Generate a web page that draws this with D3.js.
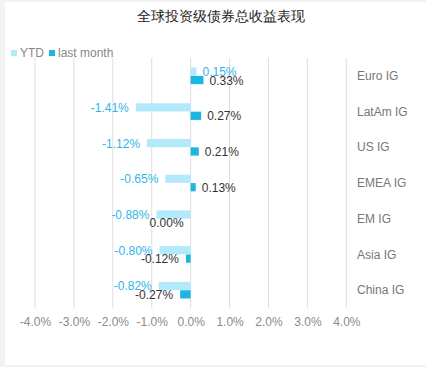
<!DOCTYPE html>
<html><head><meta charset="utf-8">
<script src="https://cdn.jsdelivr.net/npm/d3@7"></script>
<style>body{margin:0;background:#f3f3f3;}svg{display:block;font-family:"Liberation Sans",Arial,sans-serif;}</style>
</head><body>
<svg id="c" width="426" height="367"></svg>
<script>
const categories = ["Euro IG","LatAm IG","US IG","EMEA IG","EM IG","Asia IG","China IG"];
const seriesNames = ["YTD","last month"];
const ytd = [0.15,-1.41,-1.12,-0.65,-0.88,-0.80,-0.82];
const lastMonth = [0.33,0.27,0.21,0.13,0.00,-0.12,-0.27];
const tickValues = [-4,-3,-2,-1,0,1,2,3,4];
const title = "全球投资级债券总收益表现";
const colors = {"YTD":"#b3eafb","last month":"#1cb7e1"};
const labelColors = {"YTD":"#2fb5ea","last month":"#333333"};

const svg = d3.select("#c");
svg.append("rect").attr("x",5).attr("y",2).attr("width",421).attr("height",363).attr("fill","#fff");

const x = d3.scaleLinear().domain([-4,4]).range([35,346.3]);
const y = d3.scaleBand().domain(categories).range([58,308]).paddingInner(0.524).paddingOuter(0.262);
const ys = d3.scaleBand().domain(seriesNames).range([0,y.bandwidth()]).padding(0.02);

svg.append("text").attr("x",221).attr("y",21).attr("text-anchor","middle")
  .attr("font-size",14).attr("fill","#222").text(title);

// grid
svg.append("g").selectAll("line").data(tickValues).join("line")
  .attr("x1",d=>x(d)).attr("x2",d=>x(d)).attr("y1",58).attr("y2",308)
  .attr("stroke","#dedede").attr("stroke-width",1);

// axis
const ax = svg.append("g").attr("transform","translate(0,308)")
  .call(d3.axisBottom(x).tickValues(tickValues).tickSize(0).tickPadding(9).tickFormat(d=>d.toFixed(1)+"%"));
ax.select(".domain").remove();
ax.selectAll("text").attr("font-size",12).attr("fill","#8a8a8a").attr("font-family","Liberation Sans, Arial, sans-serif");

// category labels
svg.append("g").selectAll("text").data(categories).join("text")
  .attr("x",357).attr("y",d=>y(d)+y.bandwidth()/2).attr("dy","0.35em")
  .attr("font-size",12).attr("fill","#777").text(d=>d);

const rows = [];
categories.forEach((c,i)=>{
  rows.push({c,s:"YTD",v:ytd[i]});
  rows.push({c,s:"last month",v:lastMonth[i]});
});

svg.append("g").selectAll("rect").data(rows).join("rect")
  .attr("x",d=>x(Math.min(0,d.v))).attr("width",d=>Math.abs(x(d.v)-x(0)))
  .attr("y",d=>y(d.c)+ys(d.s)).attr("height",ys.bandwidth())
  .attr("fill",d=>colors[d.s]);

svg.append("g").selectAll("text").data(rows).join("text")
  .attr("x",d=>d.v>0 ? x(d.v)+6 : x(d.v)-7)
  .attr("text-anchor",d=>d.v>0?"start":"end")
  .attr("y",d=>y(d.c)+ys(d.s)+ys.bandwidth()/2).attr("dy","0.38em")
  .attr("font-size",12).attr("fill",d=>labelColors[d.s])
  .text(d=>d.v.toFixed(2)+"%");

// legend
const lg = svg.append("g");
const lx = [11, 49];
seriesNames.forEach((s,i)=>{
  lg.append("rect").attr("x",lx[i]).attr("y",50).attr("width",6).attr("height",6).attr("fill",colors[s]);
  lg.append("text").attr("x",lx[i]+9).attr("y",53).attr("dy","0.35em").attr("font-size",12).attr("fill","#888").text(s);
});
</script>
</body></html>
